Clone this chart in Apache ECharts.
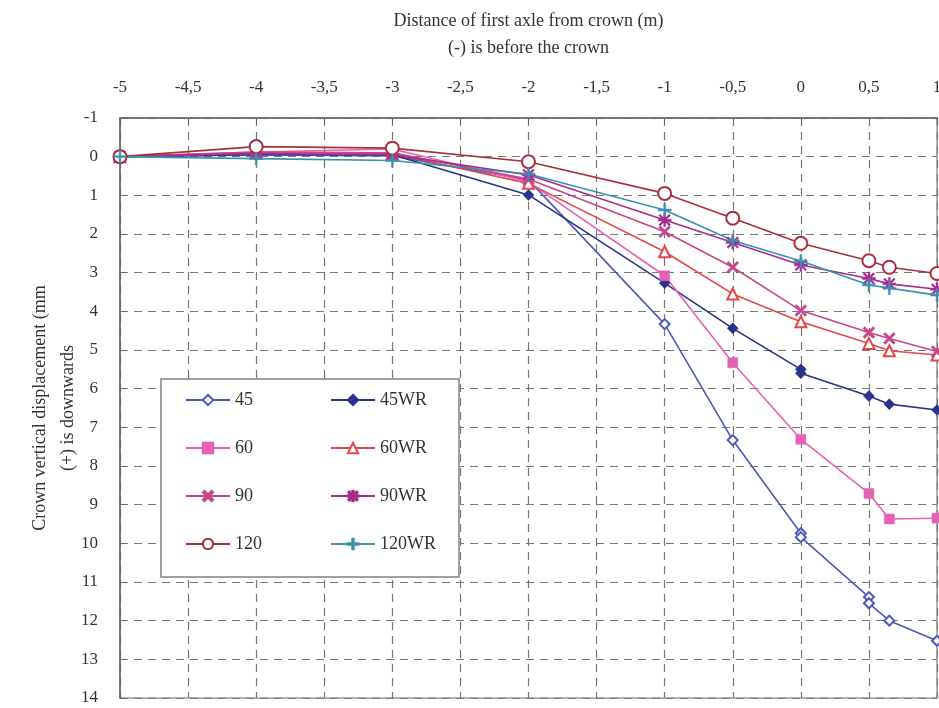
<!DOCTYPE html>
<html>
<head>
<meta charset="utf-8">
<script src="https://cdn.jsdelivr.net/npm/echarts@6/dist/echarts.min.js"></script>
<style>html,body{margin:0;padding:0;background:#fff;}#c{width:939px;height:708px;}</style>
</head>
<body>
<div id="c"></div>
<script>
// Data (x = distance of first axle from crown (m), y = displacement (mm), + downwards)
const names = ['45', '45WR', '60', '60WR', '90', '90WR', '120', '120WR'];
const xTickLabels = ['-5','-4,5','-4','-3,5','-3','-2,5','-2','-1,5','-1','-0,5','0','0,5','1'];
const s45    = [[-5,0],[-4,-0.05],[-3,-0.02],[-2,0.6],[-1,4.33],[-0.5,7.33],[0,9.74],[0,9.84],[0.5,11.39],[0.5,11.55],[0.65,12.0],[1,12.52]];
const s45WR  = [[-5,0],[-4,-0.05],[-3,-0.05],[-2,0.99],[-1,3.27],[-0.5,4.44],[0,5.5],[0,5.6],[0.5,6.19],[0.65,6.4],[1,6.55]];
const s60    = [[-5,0],[-4,-0.12],[-3,-0.2],[-2,0.65],[-1,3.08],[-0.5,5.33],[0,7.31],[0.5,8.71],[0.65,9.37],[1,9.35]];
const s60WR  = [[-5,0],[-4,-0.1],[-3,-0.08],[-2,0.69],[-1,2.46],[-0.5,3.55],[0,4.27],[0.5,4.83],[0.65,5.02],[1,5.13]];
const s90    = [[-5,0],[-4,-0.12],[-3,-0.1],[-2,0.58],[-1,1.94],[-0.5,2.86],[0,3.98],[0.5,4.55],[0.65,4.7],[1,5.04]];
const s90WR  = [[-5,0],[-4,-0.08],[-3,-0.05],[-2,0.47],[-1,1.64],[-0.5,2.22],[0,2.8],[0.5,3.15],[0.65,3.29],[1,3.43]];
const s120   = [[-5,0],[-4,-0.26],[-3,-0.22],[-2,0.13],[-1,0.95],[-0.5,1.59],[0,2.24],[0.5,2.69],[0.65,2.86],[1,3.02]];
const s120WR = [[-5,0],[-4,0.05],[-3,0.1],[-2,0.45],[-1,1.38],[-0.5,2.17],[0,2.7],[0.5,3.32],[0.65,3.4],[1,3.58]];

const FONT = 'Liberation Serif';
const X_SYM = 'path://M0,1.5 L1.5,0 L5,3.5 L8.5,0 L10,1.5 L6.5,5 L10,8.5 L8.5,10 L5,6.5 L1.5,10 L0,8.5 L3.5,5 Z';
const PLUS_SYM = 'path://M4.3,0 H5.7 V4.3 H10 V5.7 H5.7 V10 H4.3 V5.7 H0 V4.3 H4.3 Z';
const STAR_SYM = 'path://M4.3,0 H5.7 V4.3 H10 V5.7 H5.7 V10 H4.3 V5.7 H0 V4.3 H4.3 Z M0.5,1.5 L1.5,0.5 L5,4 L8.5,0.5 L9.5,1.5 L6,5 L9.5,8.5 L8.5,9.5 L5,6 L1.5,9.5 L0.5,8.5 L4,5 Z';

const styles = {
  '45':    {data: s45,    color: '#4a5ab8', symbol: 'diamond', size: 10, fill: '#ffffff'},
  '45WR':  {data: s45WR,  color: '#29338a', symbol: 'diamond', size: 11, fill: null},
  '60':    {data: s60,    color: '#e462b6', symbol: 'rect', size: 10, fill: null},
  '60WR':  {data: s60WR,  color: '#e4474a', symbol: 'triangle', size: 11, fill: '#ffffff'},
  '90':    {data: s90,    color: '#c4478a', symbol: X_SYM, size: 12, fill: null},
  '90WR':  {data: s90WR,  color: '#a52d92', symbol: STAR_SYM, size: 13, fill: null},
  '120':   {data: s120,   color: '#a8303a', symbol: 'circle', size: 13, fill: '#ffffff'},
  '120WR': {data: s120WR, color: '#3a92b0', symbol: PLUS_SYM, size: 13, fill: null}
};

const series = names.map(n => {
  const st = styles[n];
  return {
    name: n,
    type: 'line',
    data: st.data,
    symbol: st.symbol,
    symbolSize: st.size,
    showAllSymbol: true,
    lineStyle: {color: st.color, width: 1.6},
    itemStyle: st.fill ? {color: st.fill, borderColor: st.color, borderWidth: 2} : {color: st.color, borderColor: st.color, borderWidth: 0.5},
    z: 5,
    animation: false
  };
});

const chart = echarts.init(document.getElementById('c'), null, {renderer: 'canvas'});
chart.setOption({
  backgroundColor: '#ffffff',
  animation: false,
  grid: {left: 120, right: 2, top: 118, bottom: 10, outerBoundsMode: 'none', containLabel: false,
         show: true, borderColor: '#9a9a9a', borderWidth: 1.5, backgroundColor: 'transparent'},
  xAxis: {
    type: 'value', position: 'top', min: -5, max: 1, interval: 0.5,
    name: 'Distance of first axle from crown (m)\n(-) is before the crown',
    nameLocation: 'middle', nameGap: 56,
    nameTextStyle: {fontFamily: FONT, fontSize: 18, color: '#333', lineHeight: 27},
    axisLine: {show: true, onZero: false, lineStyle: {color: '#666', width: 1.5}},
    axisTick: {show: true, inside: true, length: 5, lineStyle: {color: '#666'}},
    axisLabel: {fontFamily: FONT, fontSize: 17, color: '#333', margin: 22,
      formatter: v => { const i = Math.round((v + 5) * 2); return xTickLabels[i] !== undefined ? xTickLabels[i] : ''; }},
    splitLine: {show: true, lineStyle: {color: '#777', type: [8, 6], width: 1.2}}
  },
  yAxis: {
    type: 'value', inverse: true, min: -1, max: 14, interval: 1,
    name: 'Crown vertical displacement (mm\n(+) is downwards',
    nameLocation: 'middle', nameGap: 38, nameRotate: 90, nameMoveOverlap: false,
    nameTextStyle: {fontFamily: FONT, fontSize: 18, color: '#333', lineHeight: 28},
    axisLine: {show: true, onZero: false, lineStyle: {color: '#666', width: 1.5}},
    axisTick: {show: true, inside: true, length: 6, lineStyle: {color: '#666'}},
    axisLabel: {fontFamily: FONT, fontSize: 17, color: '#333', margin: 22},
    splitLine: {show: true, lineStyle: {color: '#777', type: [8, 6], width: 1.2}}
  },
  legend: [
    {data: ['45', '60', '90', '120'], orient: 'vertical', left: 185, top: 391, padding: 0, itemWidth: 44, itemHeight: 13, itemGap: 30,
     textStyle: {fontFamily: FONT, fontSize: 18, color: '#333'}, z: 30, selectedMode: false},
    {data: ['45WR', '60WR', '90WR', '120WR'], orient: 'vertical', left: 330, top: 391, padding: 0, itemWidth: 44, itemHeight: 13, itemGap: 30,
     textStyle: {fontFamily: FONT, fontSize: 18, color: '#333'}, z: 30, selectedMode: false}
  ],
  graphic: [{
    type: 'rect', z: 20, left: 160, top: 378,
    shape: {width: 298, height: 198},
    style: {fill: '#ffffff', stroke: '#a0a0a0', lineWidth: 2}
  }],
  series: series
});
</script>
</body>
</html>
